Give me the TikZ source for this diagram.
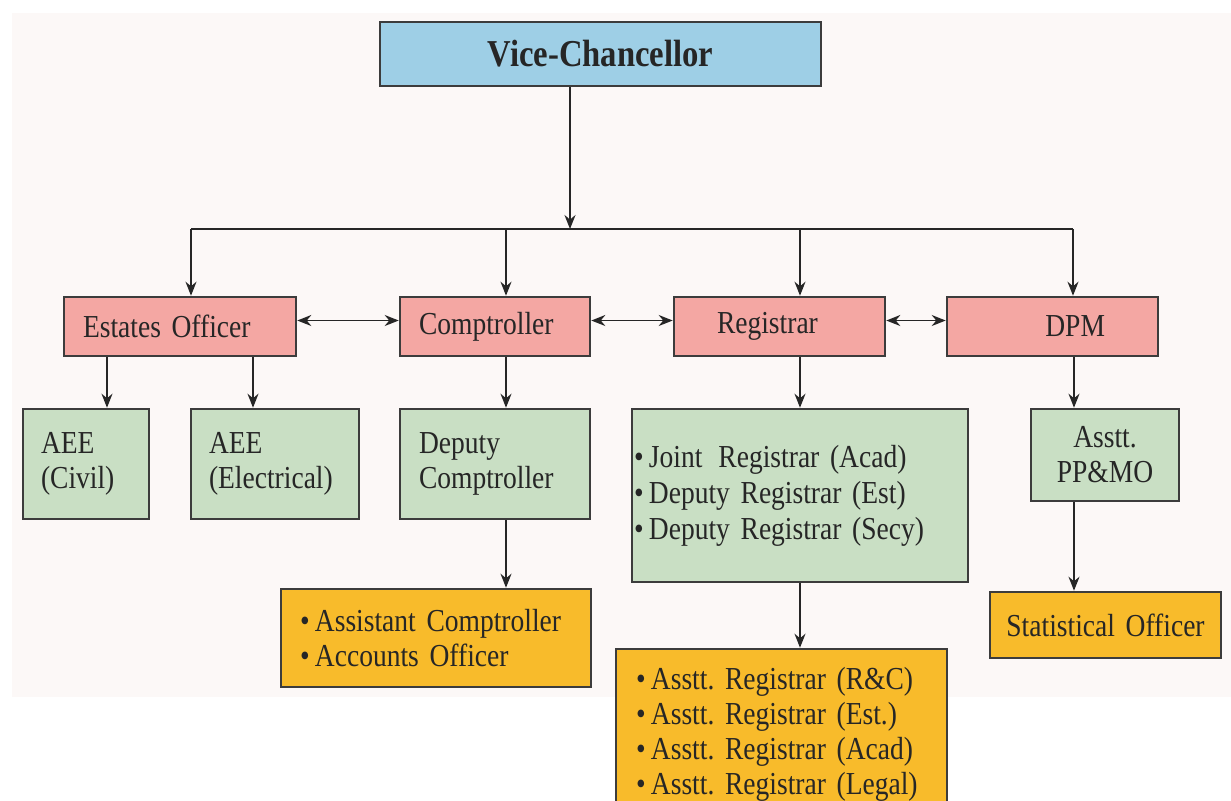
\documentclass[tikz,border=0pt]{standalone}
\usepackage{fontspec}
\setmainfont{Liberation Serif}[FakeStretch=0.86]
\usetikzlibrary{arrows.meta}
\definecolor{vcblue}{HTML}{9ECFE6}
\definecolor{pinkf}{HTML}{F4A7A3}
\definecolor{greenf}{HTML}{C9DFC4}
\definecolor{orangef}{HTML}{F8BB2B}
\definecolor{boxline}{HTML}{3C3C3C}
\definecolor{bgcol}{HTML}{FCF8F7}
\frenchspacing
\newcommand\boxfont{\fontsize{16pt}{17.5pt}\selectfont\spaceskip=3pt plus 1pt minus 0.5pt\relax}
\begin{document}
\begin{tikzpicture}[x=0.5pt,y=-0.5pt,
  base/.style={draw=boxline, line width=1.3pt, inner ysep=0pt, text=black!85,
    font=\boxfont},
  pinkbox/.style={base, fill=pinkf, minimum height=29.5pt},
  greenbox/.style={base, fill=greenf},
  orangebox/.style={base, fill=orangef},
  ln/.style={line width=0.9pt, black!85},
  arr/.style={ln, -{Stealth[length=7pt,width=5.5pt]}},
  darr/.style={ln, {Stealth[length=7pt,width=5.5pt]}-{Stealth[length=7pt,width=5.5pt]}}
]
\useasboundingbox (0,0) rectangle (1231,800);
\clip (0,0) rectangle (1231,800);
\fill[bgcol] (12,13) rectangle (1231,697);

% top
\node[base, fill=vcblue, minimum width=220.5pt, minimum height=32pt,
  font=\fontsize{19pt}{21pt}\selectfont\bfseries] (vc) at (600.5,54) {Vice-Chancellor};

% second row
\node[pinkbox, inner xsep=9.5pt, text width=97pt, align=left] (eo) at (180,326.5) {Estates Officer};
\node[pinkbox, inner xsep=9.5pt, text width=76pt, align=left] (comp) at (495,326.5) {Comptroller};
\node[pinkbox, inner xsep=21.5pt, text width=62.5pt, align=left] (reg) at (779.5,326.5) {Registrar};
\node[pinkbox, inner xsep=26.5pt, text width=52.5pt, align=right] (dpm) at (1052.5,326.5) {DPM};

% third row
\node[greenbox, minimum height=55pt, inner xsep=9pt, text width=45pt, align=left] (civil) at (86,464) {AEE\\(Civil)};
\node[greenbox, minimum height=55pt, inner xsep=9pt, text width=66pt, align=left] (elec) at (275,464) {AEE\\(Electrical)};
\node[greenbox, minimum height=55pt, inner xsep=9.5pt, text width=76pt, align=left] (dcomp) at (495,464) {Deputy\\Comptroller};
\node[greenbox, minimum height=86.5pt, inner xsep=1pt, text width=166pt, align=left] (jreg) at (800,495.5)
  {•\,Joint\enspace Registrar (Acad)\\[0.5pt]•\,Deputy Registrar (Est)\\[0.5pt]•\,Deputy Registrar (Secy)};
\node[greenbox, minimum height=46pt, inner xsep=0pt, text width=74pt, align=center] (ppmo) at (1105,455) {Asstt.\\PP\&MO};

% fourth row
\node[orangebox, minimum height=49pt, inner xsep=9.5pt, text width=136pt, align=left] (acomp) at (436,638)
  {•\,Assistant Comptroller\\•\,Accounts Officer};
\node[orangebox, minimum height=33pt, inner xsep=0pt, text width=115.5pt, align=center] (stat) at (1105.5,625) {Statistical Officer};
\node[orangebox, minimum height=85.5pt, inner xsep=10pt, text width=145.5pt, align=left] (areg) at (781.5,734.5)
  {•\,Asstt. Registrar (R\&C)\\•\,Asstt. Registrar (Est.)\\•\,Asstt. Registrar (Acad)\\•\,Asstt. Registrar (Legal)};

% bus
\coordinate (bm) at (570,229);
\coordinate (bl) at (191,229);
\coordinate (bc) at (506,229);
\coordinate (bg) at (800,229);
\coordinate (br) at (1073,229);
\draw[arr] (vc.south -| bm) -- (bm);
\draw[ln] (bl) -- (br);
\draw[arr] (bl) -- (bl |- eo.north);
\draw[arr] (bc) -- (bc |- comp.north);
\draw[arr] (bg) -- (bg |- reg.north);
\draw[arr] (br) -- (br |- dpm.north);

% double arrows
\draw[darr] ([yshift=3pt]eo.east) -- ([yshift=3pt]comp.west);
\draw[darr] ([yshift=3pt]comp.east) -- ([yshift=3pt]reg.west);
\draw[darr] ([yshift=3pt]reg.east) -- ([yshift=3pt]dpm.west);

% downward links
\coordinate (x1) at (107,0);
\coordinate (x2) at (253,0);
\coordinate (x3) at (506,0);
\coordinate (x4) at (800,0);
\coordinate (x5) at (1074,0);
\draw[arr] (x1 |- eo.south) -- (x1 |- civil.north);
\draw[arr] (x2 |- eo.south) -- (x2 |- elec.north);
\draw[arr] (x3 |- comp.south) -- (x3 |- dcomp.north);
\draw[arr] (x3 |- dcomp.south) -- (x3 |- acomp.north);
\draw[arr] (x4 |- reg.south) -- (x4 |- jreg.north);
\draw[arr] (x4 |- jreg.south) -- (x4 |- areg.north);
\draw[arr] (x5 |- dpm.south) -- (x5 |- ppmo.north);
\draw[arr] (x5 |- ppmo.south) -- (x5 |- stat.north);
\end{tikzpicture}
\end{document}
